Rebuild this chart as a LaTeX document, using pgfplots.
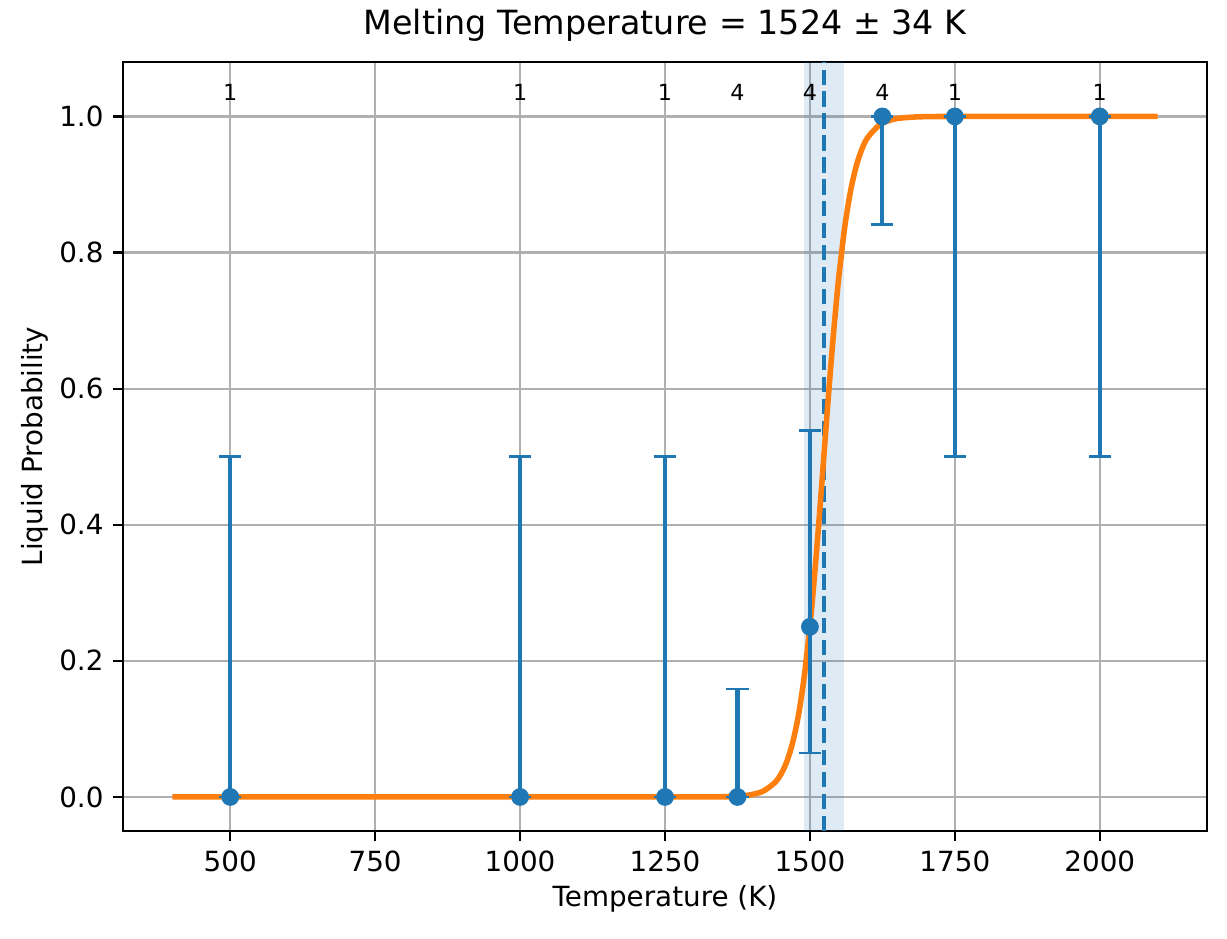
\documentclass[border=0pt]{standalone}
\usepackage{pgfplots}
\pgfplotsset{compat=1.18}
\usepackage{fontspec}
\setmainfont{DejaVu Sans}
\definecolor{C0}{HTML}{1F77B4}
\definecolor{C1}{HTML}{FF7F0E}
\definecolor{gridc}{HTML}{B0B0B0}
\begin{document}
\begin{tikzpicture}
\useasboundingbox (-44.28pt,-38.88pt) rectangle (397.4pt,299.12pt);
\begin{axis}[
  at={(0,0)}, anchor=south west,
  scale only axis, width=390.2pt, height=276.8pt,
  xmin=315, xmax=2185, ymin=-0.05, ymax=1.08,
  xtick={500,750,1000,1250,1500,1750,2000},
  ytick={0,0.2,0.4,0.6,0.8,1.0},
  yticklabel style={/pgf/number format/.cd,fixed,fixed zerofill,precision=1},
  xticklabel style={/pgf/number format/1000 sep={}},
  /pgf/number format/assume math mode=true,
  ticklabel style={font=\fontsize{10}{12}\selectfont},
  tick align=outside, tick style={black, line width=0.8pt},
  major tick length=3.5pt,
  xtick pos=bottom, ytick pos=left,
  grid=major, grid style={gridc, line width=0.8pt},
  axis line style={line width=0.8pt},
  xlabel={Temperature (K)}, ylabel={Liquid Probability},
  label style={font=\fontsize{10}{12}\selectfont},
  xlabel style={yshift=2pt}, ylabel style={yshift=-3pt},
  title={Melting Temperature = 1524 ± 34 K},
  title style={font=\fontsize{12}{14}\selectfont, yshift=-2pt},
  clip=false,
]
\fill[C0, opacity=0.15] (axis cs:1490,-0.05) rectangle (axis cs:1558,1.08);
\draw[C0, line width=1.5pt, dash pattern=on 5.5pt off 2.4pt] (axis cs:1524,-0.05) -- (axis cs:1524,1.08);
\addplot[C1, line width=2pt, smooth] coordinates {
(400,0) (1300,0.00004) (1350,0.00037) (1380,0.00144) (1400,0.00355) (1420,0.00877)
(1440,0.0215) (1450,0.0334) (1460,0.0517) (1470,0.0791) (1480,0.1192) (1490,0.1757)
(1500,0.2514) (1505,0.2966) (1510,0.3461) (1515,0.3992) (1520,0.4547) (1524,0.5)
(1530,0.5678) (1535,0.6225) (1540,0.6742) (1545,0.7220) (1550,0.7653) (1560,0.8370)
(1570,0.8900) (1580,0.9273) (1590,0.9526) (1600,0.9694) (1620,0.9874) (1640,0.9949)
(1660,0.9979) (1700,0.9997) (1800,1.0) (2100,1.0)
};
\addplot[C0, only marks, mark=*, mark size=3pt, mark options={fill=C0, draw=C0},
  error bars/.cd, y dir=both, y explicit,
  error bar style={line width=1.5pt, C0},
  error mark options={rotate=90, mark size=4pt, line width=1pt, C0}]
  coordinates {
  (500,0) +- (0,0.5) -= (0,0)
  (1000,0) +- (0,0.5) -= (0,0)
  (1250,0) +- (0,0.5) -= (0,0)
  (1375,0) +- (0,0.1586) -= (0,0)
  (1500,0.25) +- (0,0.288) -= (0,0.1854)
  (1625,1) +- (0,0) -= (0,0.1586)
  (1750,1) +- (0,0) -= (0,0.5)
  (2000,1) +- (0,0) -= (0,0.5)
};
\addplot[only marks, mark=none, nodes near coords, point meta=explicit symbolic,
  nodes near coords style={font=\fontsize{8}{10}\selectfont, anchor=center, text=black}]
  coordinates {
  (500,1.035) [1] (1000,1.035) [1] (1250,1.035) [1] (1375,1.035) [4]
  (1500,1.035) [4] (1625,1.035) [4] (1750,1.035) [1] (2000,1.035) [1]
};
\end{axis}
\end{tikzpicture}
\end{document}
